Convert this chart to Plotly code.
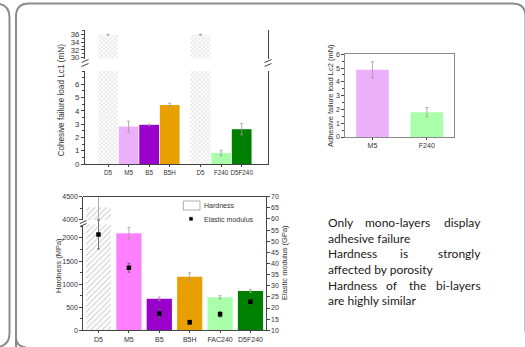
import plotly.graph_objects as go

W, H = 525, 347

# ---------------- data ----------------
coh_labels = ["D5", "M5", "B5", "B5H", "D5", "F240", "D5F240"]
coh_values = [36.0, 2.82, 2.95, 4.45, 36.0, 0.83, 2.62]
coh_err = [0.1, 0.4, 0.04, 0.12, 0.1, 0.2, 0.42]
coh_colors = ["hatch", "#ebb0f9", "#9900cc", "#e8a000", "hatch", "#aaffaa", "#008000"]
coh_groups = [4, 3]

adh_labels = ["M5", "F240"]
adh_values = [4.88, 1.8]
adh_err = [0.58, 0.34]
adh_colors = ["#ebb0f9", "#aaffaa"]

hard_labels = ["D5", "M5", "B5", "B5H", "FAC240", "D5F240"]
hard_values = [4270, 2100, 685, 1161, 715, 851]
hard_err = [260, 125, 35, 85, 35, 30]
hard_colors = ["hatch", "#ff80ff", "#9900cc", "#e8a000", "#aaffaa", "#008000"]
mod_values = [53.0, 38.1, 17.6, 13.6, 17.2, 22.8]
mod_err = [6.5, 2.0, 2.1, 1.0, 1.2, 1.2]

coh_ticks_low = [0, 1, 2, 3, 4, 5, 6]
coh_ticks_high = [30, 32, 34, 36]
hard_ticks_low = [0, 500, 1000, 1500, 2000]
hard_ticks_high = [4000, 4500]

text_lines = [
    ["Only", "mono-layers", "display"],
    ["adhesive failure"],
    ["Hardness", "is", "strongly"],
    ["affected by porosity"],
    ["Hardness", "of", "the", "bi-layers"],
    ["are highly similar"],
]

# ---------------- helpers ----------------
def X(px):
    return px / W

def Y(py):
    return 1 - py / H

FONT = "Liberation Sans, Arial, sans-serif"
AX = "#444444"
tf = dict(family=FONT, size=7, color="#333333")
tf_big = dict(family=FONT, size=7.8, color="#333333")

# bar positions with a gap between groups
coh_pos = []
p = 0.0
for n in coh_groups:
    for _ in range(n):
        coh_pos.append(p)
        p += 1
    p += 0.5

fig = go.Figure()

hatch_top = dict(shape="x", fgcolor="#a8a8a8", bgcolor="white", size=3, solidity=0.35)
hatch_bot = dict(shape="/", fgcolor="#a8a8a8", bgcolor="white", size=4, solidity=0.3)
err_style = dict(type="data", color="#9a9a9a", thickness=0.8, width=1.5)

# ---- Cohesive chart (broken axis: y lower, y2 upper) ----
hi = [i for i, c in enumerate(coh_colors) if c == "hatch"]
si = [i for i, c in enumerate(coh_colors) if c != "hatch"]
for ya in ["y", "y2"]:
    fig.add_trace(go.Bar(
        x=[coh_pos[i] for i in hi], y=[coh_values[i] for i in hi], width=0.96,
        marker=dict(color="white", pattern=hatch_top, line=dict(width=0)),
        error_y=dict(array=[coh_err[i] for i in hi], **err_style),
        xaxis="x", yaxis=ya, showlegend=False))
    fig.add_trace(go.Bar(
        x=[coh_pos[i] for i in si], y=[coh_values[i] for i in si], width=0.96,
        marker=dict(color=[coh_colors[i] for i in si], line=dict(width=0)),
        error_y=dict(array=[coh_err[i] for i in si], **err_style),
        xaxis="x", yaxis=ya, showlegend=False))

# ---- Adhesive chart ----
fig.add_trace(go.Bar(
    x=adh_labels, y=adh_values, width=0.6,
    marker=dict(color=adh_colors, line=dict(width=0)),
    error_y=dict(array=adh_err, **err_style),
    xaxis="x3", yaxis="y3", showlegend=False))

# ---- Hardness / modulus chart ----
hh = [i for i, c in enumerate(hard_colors) if c == "hatch"]
hs = [i for i, c in enumerate(hard_colors) if c != "hatch"]
for ya in ["y4", "y5"]:
    fig.add_trace(go.Bar(
        x=[hard_labels[i] for i in hh], y=[hard_values[i] for i in hh], width=0.83,
        marker=dict(color="white", pattern=hatch_bot, line=dict(width=0)),
        error_y=dict(array=[hard_err[i] for i in hh], **err_style),
        xaxis="x4", yaxis=ya, showlegend=False))
    fig.add_trace(go.Bar(
        x=[hard_labels[i] for i in hs], y=[hard_values[i] for i in hs], width=0.83,
        marker=dict(color=[hard_colors[i] for i in hs], line=dict(width=0)),
        error_y=dict(array=[hard_err[i] for i in hs], **err_style),
        xaxis="x4", yaxis=ya, showlegend=False))

fig.add_trace(go.Scatter(
    x=hard_labels, y=mod_values, mode="markers",
    marker=dict(symbol="square", size=4.5, color="black"),
    error_y=dict(array=mod_err, type="data", color="#555555", thickness=0.8, width=1.5),
    xaxis="x5", yaxis="y6", showlegend=False))

common_y = dict(showgrid=False, zeroline=False, showline=True, linecolor=AX, linewidth=1,
                ticks="outside", ticklen=3, tickcolor=AX, tickfont=tf, automargin=False)
common_x = dict(showgrid=False, zeroline=False, showline=True, linecolor=AX, linewidth=1,
                ticks="outside", ticklen=2, tickcolor=AX, tickfont=tf, tickangle=0,
                automargin=False)

layout = dict(
    width=W, height=H, margin=dict(l=0, r=0, t=0, b=0, pad=0),
    paper_bgcolor="white", plot_bgcolor="rgba(0,0,0,0)",
    barmode="overlay", showlegend=False,
    font=dict(family=FONT, color="#333333"),
    # cohesive
    xaxis=dict(domain=[X(85), X(268)], anchor="y", range=[-1.12, 7.78],
               tickvals=coh_pos, ticktext=coh_labels,
               **{**common_x, "tickfont": dict(family=FONT, size=6.3, color="#333333")}),
    yaxis=dict(domain=[Y(164), Y(71)], anchor="x", range=[0, 7.0], tickvals=coh_ticks_low,
               mirror=True, minor=dict(ticks="outside", ticklen=2, dtick=0.5, tickcolor=AX),
               **{**common_y, "tickfont": tf_big}),
    yaxis2=dict(domain=[Y(58.5), Y(30)], anchor="x", range=[29.7, 37.25], tickvals=coh_ticks_high,
                mirror=True, minor=dict(ticks="outside", ticklen=2, dtick=1, tickcolor=AX),
                **{**common_y, "tickfont": tf_big}),
    # adhesive
    xaxis3=dict(domain=[X(345.3), X(454)], anchor="y3", range=[-0.5, 1.5], mirror=True,
                **{**common_x, "linecolor": "#8a8a8a"}),
    yaxis3=dict(domain=[Y(137), Y(54.3)], anchor="x3", range=[0, 6], dtick=1, mirror=True,
                minor=dict(ticks="outside", ticklen=2, dtick=0.5, tickcolor=AX),
                **{**common_y, "linecolor": "#8a8a8a"}),
    # hardness
    xaxis4=dict(domain=[X(83.3), X(265.7)], anchor="y4", range=[-0.5, 5.5],
                categoryorder="array", categoryarray=hard_labels, **common_x),
    yaxis4=dict(domain=[Y(330.3), Y(224.5)], anchor="x4", range=[0, 2292], tickvals=hard_ticks_low,
                minor=dict(ticks="outside", ticklen=2, dtick=250, tickcolor=AX), **common_y),
    yaxis5=dict(domain=[Y(220), Y(196.7)], anchor="x4", range=[3990, 4500], tickvals=hard_ticks_high,
                minor=dict(ticks="outside", ticklen=2, dtick=250, tickcolor=AX), **common_y),
    xaxis5=dict(domain=[X(83.3), X(265.7)], anchor="y6", range=[-0.5, 5.5],
                categoryorder="array", categoryarray=hard_labels,
                showticklabels=False, ticks="", showline=True, mirror=True,
                linecolor=AX, linewidth=1, showgrid=False, zeroline=False, automargin=False),
    yaxis6=dict(domain=[Y(330.3), Y(196.7)], anchor="x5", side="right", range=[10, 70], dtick=5,
                **common_y),
)
fig.update_layout(**layout)

annotations = []

def ann(x, y, text, size=7, angle=0, xa="center", ya="middle", color="#333333", family=FONT):
    annotations.append(dict(x=X(x), y=Y(y), xref="paper", yref="paper", text=text,
                            showarrow=False, textangle=angle, xanchor=xa, yanchor=ya,
                            font=dict(family=family, size=size, color=color)))

ann(61.5, 100, "Cohesive failure load Lc1 (mN)", size=8.2, angle=-90)
ann(331, 96, "Adhesive failure load Lc2 (mN)", size=7.5, angle=-90)
ann(58, 266, "Hardness (MPa)", size=7.5, angle=-90)
ann(284, 263, "Elastic modulus (GPa)", size=7.5, angle=-90)

# legend of lower chart
ann(202, 205.5, "Hardness", size=7, xa="left")
ann(202, 219, "Elastic modulus", size=7, xa="left")

# justified text block
TX_L, TX_R = 326, 483.3
line_y0, line_dy = 222.7, 15.6
TFONT = "Lato, Noto Sans, sans-serif"
centers = {(0, 1): 397.5, (2, 1): 403.5, (4, 1): 392.3, (4, 2): 417.0}
for li, words in enumerate(text_lines):
    yy = line_y0 + li * line_dy
    n = len(words)
    for wi, wd in enumerate(words):
        if wi == 0:
            ann(TX_L, yy, wd, size=12, xa="left", color="#1a1a1a", family=TFONT)
        elif wi == n - 1:
            ann(TX_R, yy, wd, size=12, xa="right", color="#1a1a1a", family=TFONT)
        else:
            ann(centers[(li, wi)], yy, wd, size=12, xa="center", color="#1a1a1a", family=TFONT)

fig.update_layout(annotations=annotations)

shapes = []

def line(x0, y0, x1, y1, color=AX, w=1):
    shapes.append(dict(type="line", xref="paper", yref="paper", x0=X(x0), y0=Y(y0), x1=X(x1), y1=Y(y1),
                       line=dict(color=color, width=w)))

def rect(x0, y0, x1, y1, fill, lc, w=0.8):
    shapes.append(dict(type="rect", xref="paper", yref="paper", x0=X(x0), y0=Y(y0), x1=X(x1), y1=Y(y1),
                       fillcolor=fill, line=dict(color=lc, width=w)))

def path(pts_cmds, color="#8c8c8c", w=2):
    shapes.append(dict(type="path", xref="paper", yref="paper", path=pts_cmds,
                       line=dict(color=color, width=w)))

def P(x, y):
    return f"{X(x):.5f},{Y(y):.5f}"

# break marks
for bx in (85, 268):
    line(bx - 3.5, 62.5, bx + 3.5, 59.5)
    line(bx - 3.5, 66.5, bx + 3.5, 63.5)
line(80, 223.5, 86.5, 220.5)
line(80, 226.5, 86.5, 223.5)

# legend box and marker
rect(183.3, 201, 200, 210, "white", "#999999")
rect(189.5, 217.3, 192.5, 220.3, "black", "black", 0.5)

# slide frames
r = 13
Lx, Tx, Rx, Bx = 16, 3.5, 525.5, 345.5
main = (f"M {P(Lx, Bx + 8)} Q {P(Lx, Bx)} {P(Lx, Bx - 2)} L {P(Lx, Tx + r)} "
        f"Q {P(Lx, Tx)} {P(Lx + r, Tx)} L {P(Rx - r, Tx)} Q {P(Rx, Tx)} {P(Rx, Tx + r)} "
        f"L {P(Rx, Bx - r)}")
path(main)
lx = 9.5
left = (f"M {P(-5, Tx)} Q {P(lx, Tx)} {P(lx, Tx + 14)} L {P(lx, Bx - 12)} "
        f"Q {P(lx, Bx + 1)} {P(-5, Bx + 2)}")
path(left)
path(f"M {P(Lx, Bx - 8)} Q {P(Lx, Bx + 1)} {P(Lx + 10, Bx + 2)}")

fig.update_layout(shapes=shapes)

fig.write_html("out.html", config={"displayModeBar": False},
               post_script="document.body.style.margin='0px';document.body.style.overflow='hidden';")
